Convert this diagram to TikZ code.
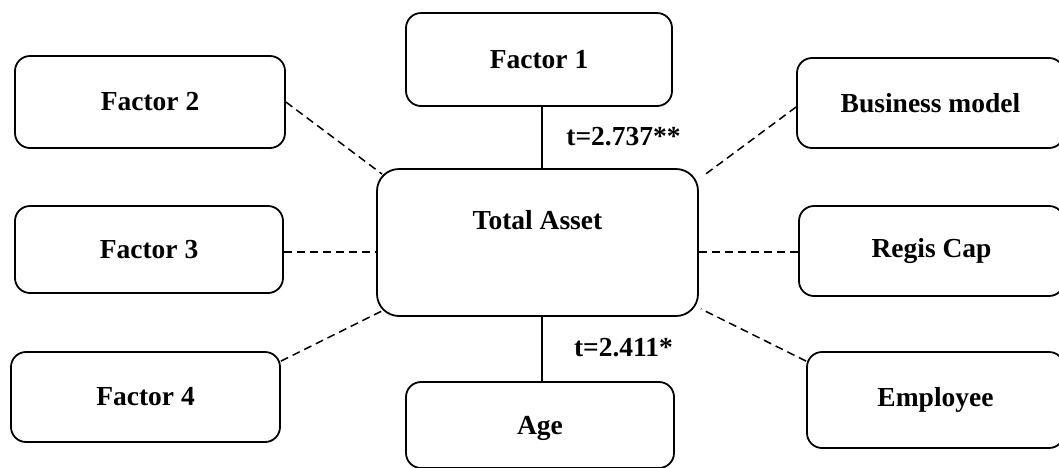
\documentclass[tikz,border=0pt]{standalone}
\usepackage{fontspec}
\setmainfont{Liberation Serif}
\usetikzlibrary{calc}
\begin{document}
\begin{tikzpicture}[x=1pt,y=-1pt,
  box/.style={draw,line width=1.8pt,rounded corners=15pt,inner sep=0pt,
    font=\fontsize{27.5}{33}\selectfont\bfseries},
  bigbox/.style={box,rounded corners=22pt},
  tlabel/.style={inner sep=0pt,font=\fontsize{27.5}{33}\selectfont\bfseries},
  link/.style={line width=1.5pt},
  dlink/.style={line width=1.5pt,dash pattern=on 8pt off 5pt}]
\useasboundingbox (0,0) rectangle (1059,467);
\node[box,minimum width=266pt,minimum height=93pt] (f1) at (539,59.5) {Factor 1};
\node[box,minimum width=270pt,minimum height=92pt] (f2) at (150,102) {Factor 2};
\node[box,minimum width=268pt,minimum height=87pt] (f3) at (149,249.5) {Factor 3};
\node[box,minimum width=269pt,minimum height=90pt] (f4) at (145.5,397) {Factor 4};
\node[bigbox,minimum width=321pt,minimum height=147pt] (ta) at (537.5,242.5) {\raisebox{22pt}[\height][\depth]{Total Asset}};
\node[box,minimum width=268pt,minimum height=86pt] (age) at (540,425) {\raisebox{-3pt}[\height][\depth]{Age}};
\node[box,minimum width=267pt,minimum height=90pt] (bm) at (930.5,103) {Business model};
\node[box,minimum width=265pt,minimum height=90pt] (rc) at (931.5,251) {Regis Cap};
\node[box,minimum width=257pt,minimum height=96pt] (emp) at (935.5,400) {Employee};
\node[tlabel] (t1) at (623.5,137) {t=2.737**};
\node[tlabel] (t2) at (623.5,348) {t=2.411*};
% solid connectors
\draw[link] ([xshift=3pt]f1.south) -- ([xshift=3pt]f1.south |- ta.north);
\draw[link] ([xshift=4.5pt]ta.south) -- ([xshift=4.5pt]ta.south |- age.north);
% dashed connectors
\draw[dlink] (f2.east) -- ([xshift=6pt,yshift=-6pt]ta.north west);
\draw[dlink] ([yshift=-2.5pt]f3.east) -- ([yshift=-2.5pt]f3.east -| ta.west);
\draw[dlink] ([yshift=-10pt]f4.north east) -- ([xshift=8pt,yshift=7pt]ta.south west);
\draw[dlink] ([yshift=-4pt]bm.west) -- ([xshift=4pt,yshift=-8pt]ta.north east);
\draw[dlink] ([yshift=-1pt]rc.west) -- ([yshift=-1pt]rc.west -| ta.east);
\draw[dlink] ([yshift=-10pt]emp.north west) -- ([xshift=2pt,yshift=8pt]ta.south east);
\end{tikzpicture}
\end{document}
